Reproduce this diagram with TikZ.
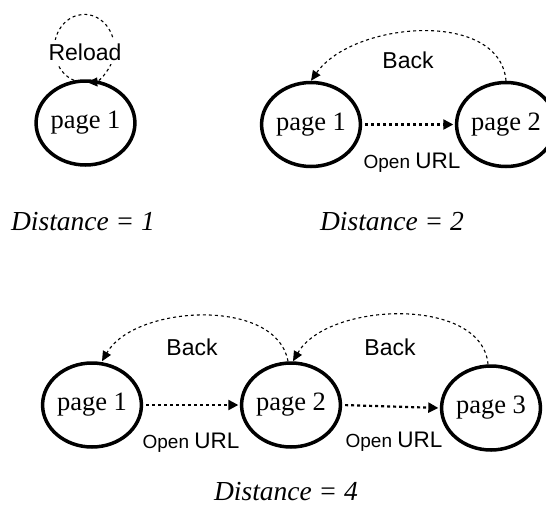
\documentclass[tikz,border=0pt]{standalone}
\usepackage{fontspec}
\setmainfont{Liberation Serif}
\setsansfont{Liberation Sans}
\usetikzlibrary{shapes.geometric,arrows.meta}
\tikzset{
  page/.style={ellipse, draw, line width=3.5pt, minimum width=98pt, minimum height=84pt, inner sep=0pt, font=\fontsize{26.5}{30}\selectfont},
  openline/.style={line width=2.2pt, dash pattern=on 3pt off 3pt, -{Triangle[length=10pt,width=10pt]}, shorten <=3pt, shorten >=1.5pt},
  backline/.style={line width=1.1pt, dash pattern=on 3pt off 3pt, -{Triangle[length=10pt,width=9pt]}},
  lab/.style={font=\sffamily\fontsize{23}{26}\selectfont, inner sep=0pt},
  dist/.style={font=\itshape\fontsize{27.5}{30}\selectfont, inner sep=0pt},
}
\newcommand{\openurl}{{\sffamily\fontsize{19}{22}\selectfont Open \fontsize{22.5}{26}\selectfont URL}}
\begin{document}
\begin{tikzpicture}[x=1pt,y=1pt]
\useasboundingbox (0,0) rectangle (546,-512);
% Distance = 1
\node[page] (a1) at (85.5,-123) {page 1};
\draw[backline, shorten >=2pt] (a1.105) arc[start angle=250, end angle=-88, x radius=30, y radius=34];
\node[lab, fill=white, inner xsep=1pt, inner ysep=4pt] (reload) at (85,-52) {Reload};
\node[dist] (d1) at (83,-222) {Distance = 1};
% Distance = 2
\node[page] (b1) at (311,-124.5) {page 1};
\node[page] (b2) at (506,-124.5) {page 2};
\draw[openline] (b1.east) -- (b2.west);
\node[inner sep=0pt] (bo) at (412,-163) {\openurl};
\draw[backline] (b2.north) to[out=95, in=55, looseness=0.95] (b1.north);
\node[lab] (bb) at (408,-60) {Back};
\node[dist] (d2) at (392,-222) {Distance = 2};
% Distance = 4
\node[page] (c1) at (92,-405) {page 1};
\node[page] (c2) at (291,-405) {page 2};
\node[page] (c3) at (491,-408) {page 3};
\draw[openline] (c1.east) -- (c2.west);
\draw[openline] (c2.east) -- (c3.west);
\node[inner sep=0pt] (co1) at (191,-443) {\openurl};
\node[inner sep=0pt] (co2) at (394,-442) {\openurl};
\draw[backline] ([xshift=-3pt]c2.north) to[out=100, in=60, looseness=0.9] ([xshift=10pt]c1.north);
\draw[backline] ([xshift=-3pt]c3.north) to[out=95, in=60, looseness=0.9] ([xshift=2pt]c2.north);
\node[lab] (cb1) at (192,-347) {Back};
\node[lab] (cb2) at (390,-347) {Back};
\node[dist] (d4) at (286,-492) {Distance = 4};
\end{tikzpicture}
\end{document}
